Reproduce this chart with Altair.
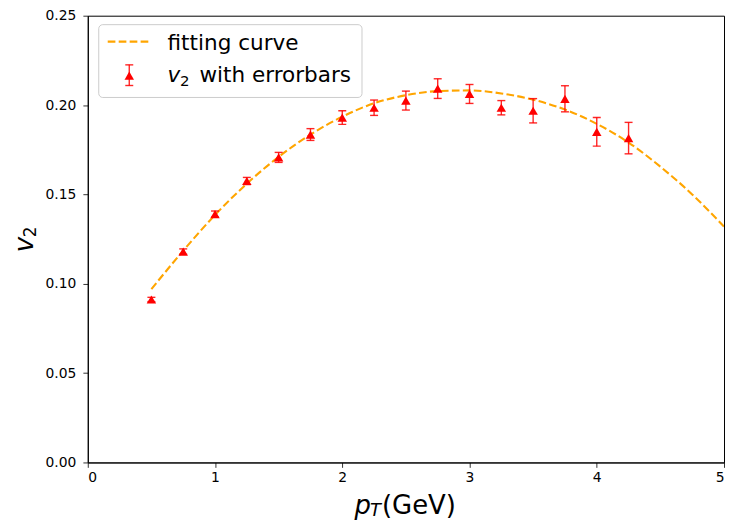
import altair as alt
import pandas as pd

# measured points
pt = [0.5, 0.75, 1.0, 1.25, 1.5, 1.75, 2.0, 2.25, 2.5, 2.75, 3.0, 3.25, 3.5, 3.75, 4.0, 4.25]
v2 = [0.0912, 0.118, 0.139, 0.1575, 0.1707, 0.1835, 0.193, 0.1985, 0.2025, 0.2092,
      0.2062, 0.1985, 0.1968, 0.2035, 0.1850, 0.1815]
err = [0.0012, 0.0015, 0.0017, 0.002, 0.0028, 0.0033, 0.0038, 0.0043, 0.0053, 0.0055,
       0.0053, 0.004, 0.0068, 0.0073, 0.0080, 0.0088]

# fitting curve
fit_x = [0.5, 0.75, 1.0, 1.25, 1.5, 1.75, 2.0, 2.25, 2.5, 2.75, 3.0, 3.25, 3.5, 3.75,
         4.0, 4.25, 4.5, 4.75, 5.0]
fit_y = [0.097, 0.1185, 0.1385, 0.156, 0.171, 0.1835, 0.1935, 0.201, 0.2055, 0.2078,
         0.2082, 0.2065, 0.203, 0.1975, 0.1895, 0.179, 0.1655, 0.150, 0.132]

x_ticks = [0, 1, 2, 3, 4, 5]
y_ticks = [0.0, 0.05, 0.10, 0.15, 0.20, 0.25]

FONT = "DejaVu Sans"
RED = "#ff0000"
ORANGE = "#ffa500"

pts = pd.DataFrame({"pt": pt, "v2": v2,
                    "lo": [a - b for a, b in zip(v2, err)],
                    "hi": [a + b for a, b in zip(v2, err)]})
fit = pd.DataFrame({"pt": fit_x, "v2": fit_y})

xs = alt.Scale(domain=[0, 5], nice=False, zero=False)
ys = alt.Scale(domain=[0, 0.25], nice=False, zero=False)
xax = alt.Axis(values=x_ticks, format="d", title=None, labelPadding=3)
yax = alt.Axis(values=y_ticks, format=".2f", title=None, labelPadding=7)

curve = alt.Chart(fit).mark_line(
    color=ORANGE, strokeDash=[7.7, 3.3], strokeWidth=2.1, interpolate="monotone", clip=True
).encode(x=alt.X("pt:Q", scale=xs, axis=xax), y=alt.Y("v2:Q", scale=ys, axis=yax))

bars = alt.Chart(pts).mark_rule(color=RED, strokeWidth=1.4, opacity=0.85).encode(
    x=alt.X("pt:Q", scale=xs), y=alt.Y("lo:Q", scale=ys), y2="hi:Q")
cap_lo = alt.Chart(pts).mark_tick(color=RED, thickness=1.4, size=8, orient="horizontal",
                                  opacity=0.85).encode(
    x=alt.X("pt:Q", scale=xs), y=alt.Y("lo:Q", scale=ys))
cap_hi = alt.Chart(pts).mark_tick(color=RED, thickness=1.4, size=8, orient="horizontal",
                                  opacity=0.85).encode(
    x=alt.X("pt:Q", scale=xs), y=alt.Y("hi:Q", scale=ys))
marks = alt.Chart(pts).mark_point(shape="triangle-up", filled=True, color=RED, size=90,
                                  opacity=1).encode(
    x=alt.X("pt:Q", scale=xs), y=alt.Y("v2:Q", scale=ys))

one = pd.DataFrame({"k": [0]})
base = alt.Chart(one)

# legend
leg_box = base.mark_rect(fill="white", fillOpacity=0.8, stroke="#cccccc", strokeWidth=1,
                         cornerRadius=4).encode(
    x=alt.value(11), x2=alt.value(275), y=alt.value(9), y2=alt.value(82))
leg_line = base.mark_rule(color=ORANGE, strokeDash=[7.7, 3.3], strokeWidth=2.1).encode(
    x=alt.value(20), x2=alt.value(62), y=alt.value(26))
leg_t1 = base.mark_text(text="fitting curve", align="left", baseline="alphabetic",
                        font=FONT, fontSize=21.6, color="black").encode(
    x=alt.value(80), y=alt.value(34))
leg_bar = base.mark_rule(color=RED, strokeWidth=1.4, opacity=0.85).encode(
    x=alt.value(41.6), y=alt.value(49.3), y2=alt.value(70))
leg_c1 = base.mark_rule(color=RED, strokeWidth=1.4, opacity=0.85).encode(
    x=alt.value(37.6), x2=alt.value(45.6), y=alt.value(49.3))
leg_c2 = base.mark_rule(color=RED, strokeWidth=1.4, opacity=0.85).encode(
    x=alt.value(37.6), x2=alt.value(45.6), y=alt.value(70))
leg_pt = base.mark_point(shape="triangle-up", filled=True, color=RED, size=90,
                         opacity=1).encode(x=alt.value(41.6), y=alt.value(60))
leg_v = base.mark_text(text="v", align="left", baseline="alphabetic", font=FONT,
                       fontStyle="italic", fontSize=21.6, color="black").encode(
    x=alt.value(80), y=alt.value(66.7))
leg_2 = base.mark_text(text="2", align="left", baseline="alphabetic", font=FONT,
                       fontSize=15, color="black").encode(
    x=alt.value(92.5), y=alt.value(70))
leg_t2 = base.mark_text(text="with errorbars", align="left", baseline="alphabetic",
                        font=FONT, fontSize=21.6, color="black").encode(
    x=alt.value(112), y=alt.value(66.7))

# axis titles (plot origin is at page x=88, y=15)
xt_p = base.mark_text(text="p", align="left", baseline="alphabetic", font=FONT,
                      fontStyle="italic", fontSize=26, color="black").encode(
    x=alt.value(267.5), y=alt.value(499.2))
xt_T = base.mark_text(text="T", align="left", baseline="alphabetic", font=FONT,
                      fontStyle="italic", fontSize=18, color="black").encode(
    x=alt.value(283), y=alt.value(501.7))
xt_g = base.mark_text(text="(GeV)", align="left", baseline="alphabetic", font=FONT,
                      fontSize=26, color="black").encode(
    x=alt.value(295), y=alt.value(499.2))
yt_v = base.mark_text(text="v", align="center", baseline="alphabetic", font=FONT,
                      fontStyle="italic", fontSize=26, angle=270, color="black").encode(
    x=alt.value(-55.2), y=alt.value(229.5))
yt_2 = base.mark_text(text="2", align="center", baseline="alphabetic", font=FONT,
                      fontSize=17, angle=270, color="black").encode(
    x=alt.value(-51.8), y=alt.value(216.7))

chart = alt.layer(
    curve, bars, cap_lo, cap_hi, marks,
    leg_box, leg_line, leg_t1, leg_bar, leg_c1, leg_c2, leg_pt, leg_v, leg_2, leg_t2,
    xt_p, xt_T, xt_g, yt_v, yt_2,
).properties(
    width=638, height=448,
    autosize=alt.AutoSizeParams(type="none"),
    padding={"left": 80, "top": 7, "right": 2, "bottom": 60},
).configure_view(
    stroke="black", strokeWidth=1
).configure_axis(
    grid=False, labelFont=FONT, labelFontSize=13.9, labelColor="black",
    tickColor="black", tickWidth=0.8, tickSize=4.9, domainColor="black", domainWidth=1,
)

chart.save("out.html", embed_options={"renderer": "svg", "actions": False})
